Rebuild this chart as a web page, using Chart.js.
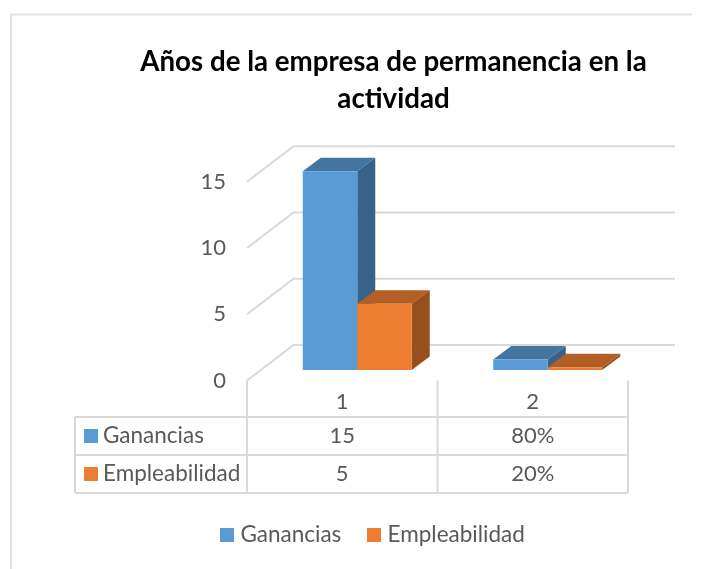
<!DOCTYPE html>
<html><head><meta charset="utf-8">
<script src="https://cdn.jsdelivr.net/npm/chart.js@4"></script>
<style>html,body{margin:0;padding:0;background:#fff}canvas{display:block}</style>
</head><body>
<canvas id="c" width="713" height="569"></canvas>
<script>
const categories = ["1", "2"];
const ganancias = [15, 0.8];
const empleabilidad = [5, 0.2];
const gananciasTable = ["15", "80%"];
const empleabilidadTable = ["5", "20%"];
const yTicks = [0, 5, 10, 15];
const titleLines = ["Años de la empresa de permanencia en la", "actividad"];
const FONT = "Lato, Carlito, Calibri, sans-serif";
const GRID = "#d9d9d9", TEXT = "#595959";
const WALL = {dx: 46.5, dy: -35.5};
const PLANE = {dx: 15, dy: -10.5};
const BAR = {dx: 18, dy: -13.5};
const SHADES = [{front:"#5b9bd5", top:"#44759f", side:"#396288"},{front:"#ed7d31", top:"#b25e24", side:"#974f1e"}];

function swatch(col){
  const c = document.createElement("canvas"); c.width = 14; c.height = 14;
  const g = c.getContext("2d"); g.fillStyle = col; g.fillRect(0,0,14,14);
  return c;
}
const swatches = SHADES.map(s => swatch(s.front));

const threeD = {
  id: "threeD",
  afterLayout(chart) {
    const shift = (b, dx) => { b.left += dx; b.right += dx; };
    shift(chart.titleBlock, 393.5 - (chart.titleBlock.left + chart.titleBlock.right)/2);
    shift(chart.legend, 375 - (chart.legend.left + chart.legend.right)/2);
  },
  beforeDraw(chart) {
    const {ctx} = chart;
    ctx.save();
    ctx.fillStyle = "#fff"; ctx.fillRect(0,0,713,569);
    ctx.strokeStyle = "#e2e2e2"; ctx.lineWidth = 2;
    ctx.beginPath(); ctx.moveTo(11,569); ctx.lineTo(11,14.5); ctx.lineTo(692,14.5); ctx.stroke();
    ctx.restore();
  },
  beforeDatasetsDraw(chart) {
    const {ctx, scales:{x,y}} = chart;
    ctx.save();
    ctx.strokeStyle = GRID; ctx.lineWidth = 2;
    yTicks.forEach(v => {
      const py = y.getPixelForValue(v), l = x.left;
      ctx.beginPath();
      ctx.moveTo(l, py);
      ctx.lineTo(l + WALL.dx, py + WALL.dy);
      ctx.lineTo(675, py + WALL.dy);
      ctx.stroke();
    });
    const rows = [417, 455, 493], cols = [75, x.left, (x.getPixelForTick(0)+x.getPixelForTick(1))/2, x.right];
    rows.forEach(r => { ctx.beginPath(); ctx.moveTo(cols[0], r); ctx.lineTo(cols[3], r); ctx.stroke(); });
    cols.forEach((c,i) => { ctx.beginPath(); ctx.moveTo(c, i===0?rows[0]:y.bottom); ctx.lineTo(c, rows[2]); ctx.stroke(); });
    ctx.font = "22px " + FONT; ctx.fillStyle = TEXT; ctx.textBaseline = "middle"; ctx.textAlign = "center";
    categories.forEach((_,i) => {
      const px = x.getPixelForTick(i);
      ctx.fillText(gananciasTable[i], px, 436);
      ctx.fillText(empleabilidadTable[i], px, 474);
    });
    ctx.textAlign = "left";
    ctx.font = "22.5px " + FONT;
    [["Ganancias",436,SHADES[0].front],["Empleabilidad",474,SHADES[1].front]].forEach(([t,cy,col]) => {
      ctx.fillStyle = col; ctx.fillRect(84, cy-7, 14, 14);
      ctx.fillStyle = TEXT; ctx.fillText(t, 103, cy);
    });
    ctx.restore();
  },
  // Bars are drawn left to right so each one overlaps its neighbour's side face
  beforeDatasetDraw() { return false; },
  afterDatasetsDraw(chart) {
    const {ctx} = chart;
    [0,1].forEach(i => {
      const meta = chart.getDatasetMeta(i), s = SHADES[i];
      ctx.save();
      ctx.translate(PLANE.dx, PLANE.dy);
      meta.data.forEach(b => {
        const l = b.x - b.width/2, r = b.x + b.width/2, t = b.y, bt = b.base;
        ctx.fillStyle = s.top;
        ctx.beginPath(); ctx.moveTo(l,t); ctx.lineTo(l+BAR.dx,t+BAR.dy); ctx.lineTo(r+BAR.dx,t+BAR.dy); ctx.lineTo(r,t); ctx.closePath(); ctx.fill();
        ctx.fillStyle = s.side;
        ctx.beginPath(); ctx.moveTo(r,t); ctx.lineTo(r+BAR.dx,t+BAR.dy); ctx.lineTo(r+BAR.dx,bt+BAR.dy); ctx.lineTo(r,bt); ctx.closePath(); ctx.fill();
        b.draw(ctx);
      });
      ctx.restore();
    });
  }
};

new Chart(document.getElementById("c"), {
  type: "bar",
  data: { labels: categories, datasets: [
    {label:"Ganancias", data:ganancias, backgroundColor:SHADES[0].front},
    {label:"Empleabilidad", data:empleabilidad, backgroundColor:SHADES[1].front}
  ]},
  plugins: [threeD],
  options: {
    responsive:false, animation:false, devicePixelRatio:1,
    layout:{padding:{left:0,right:85,top:0,bottom:13}},
    datasets:{bar:{categoryPercentage:0.572, barPercentage:1}},
    plugins:{
      tooltip:{enabled:false},
      title:{display:true, text:titleLines, color:"#000", font:{family:FONT,size:27.7,weight:"bold",lineHeight:1.33}, padding:{top:44,bottom:64}},
      legend:{position:"bottom", labels:{
        usePointStyle:true, pointStyleWidth:4, boxHeight:14, color:TEXT, font:{family:FONT,size:22.5}, padding:31,
        generateLabels(chart){
          return Chart.defaults.plugins.legend.labels.generateLabels(chart).map((it,i)=>({...it, pointStyle:swatches[i], fontColor:TEXT}));
        }
      }}
    },
    scales:{
      x:{grid:{display:false}, border:{display:false}, ticks:{color:TEXT,font:{family:FONT,size:22},padding:0}, afterFit(s){s.height=112;}},
      y:{min:0,max:15, grid:{display:false}, border:{display:false},
         ticks:{stepSize:5,color:TEXT,font:{family:FONT,size:22},padding:13}, afterFit(s){s.width=247;}}
    }
  }
});
</script>
</body></html>
